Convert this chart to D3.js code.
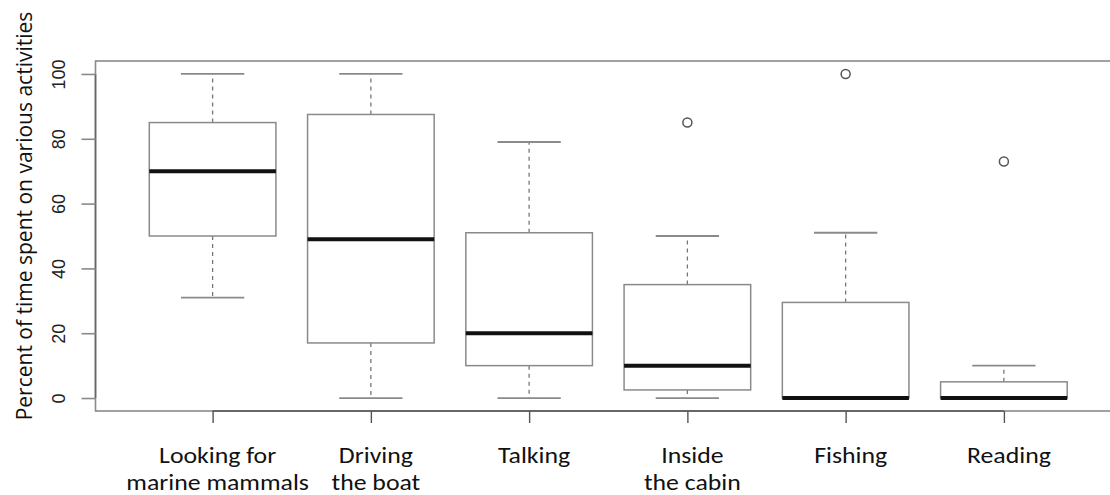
<!DOCTYPE html>
<html>
<head>
<meta charset="utf-8">
<script src="https://cdn.jsdelivr.net/npm/d3@7"></script>
<style>
  html, body { margin: 0; padding: 0; background: #fff; }
  svg { display: block; }
</style>
</head>
<body>
<svg id="chart" width="1110" height="495"></svg>
<script>
// ---- data ----
const categories = ["Looking for\nmarine mammals", "Driving\nthe boat", "Talking", "Inside\nthe cabin", "Fishing", "Reading"];
const whiskerLow  = [31, 0, 0, 0, 0, 0];
const q1          = [50, 17, 10, 2.5, 0, 0];
const medians     = [70, 49, 20, 10, 0, 0];
const q3          = [85, 87.5, 51, 35, 29.5, 5];
const whiskerHigh = [100, 100, 79, 50, 51, 10];
const outliers    = [[], [], [], [85], [100], [73]];
const yTicks = [0, 20, 40, 60, 80, 100];
const yTitle = "Percent of time spent on various activities";

// ---- layout ----
const svg = d3.select("#chart");
const frame = {left: 95.5, top: 61, bottom: 411, right: 1121};
const x = d3.scaleLinear().domain([0.26, 6.74]).range([frame.left, frame.right]);
const y = d3.scaleLinear().domain([-4, 104]).range([frame.bottom, frame.top]);

const boxW = x(0.8) - x(0);
const capW = x(0.4) - x(0);
const grey = "#8a8a8a";

// frame
svg.append("rect")
  .attr("x", frame.left).attr("y", frame.top)
  .attr("width", frame.right - frame.left).attr("height", frame.bottom - frame.top)
  .attr("fill", "none").attr("stroke", grey).attr("stroke-width", 1.6);

const data = categories.map((c, i) => ({
  c, i: i + 1, lo: whiskerLow[i], q1: q1[i], med: medians[i], q3: q3[i], hi: whiskerHigh[i], out: outliers[i]
}));

const g = svg.append("g").selectAll("g").data(data).join("g");

// whiskers (dashed)
g.append("line")
  .attr("x1", d => x(d.i)).attr("x2", d => x(d.i))
  .attr("y1", d => y(d.q3)).attr("y2", d => y(d.hi))
  .attr("stroke", "#777").attr("stroke-width", 1.3).attr("stroke-dasharray", "4,4");
g.append("line")
  .attr("x1", d => x(d.i)).attr("x2", d => x(d.i))
  .attr("y1", d => y(d.q1)).attr("y2", d => y(d.lo))
  .attr("stroke", "#777").attr("stroke-width", 1.3).attr("stroke-dasharray", "4,4");
// caps
g.append("line")
  .attr("x1", d => x(d.i) - capW / 2).attr("x2", d => x(d.i) + capW / 2)
  .attr("y1", d => y(d.hi)).attr("y2", d => y(d.hi))
  .attr("stroke", grey).attr("stroke-width", 1.8);
g.append("line")
  .attr("x1", d => x(d.i) - capW / 2).attr("x2", d => x(d.i) + capW / 2)
  .attr("y1", d => y(d.lo)).attr("y2", d => y(d.lo))
  .attr("stroke", grey).attr("stroke-width", 1.8);
// box
g.append("rect")
  .attr("x", d => x(d.i) - boxW / 2).attr("width", boxW)
  .attr("y", d => y(d.q3)).attr("height", d => y(d.q1) - y(d.q3))
  .attr("fill", "#fff").attr("stroke", grey).attr("stroke-width", 1.5);
// median
g.append("line")
  .attr("x1", d => x(d.i) - boxW / 2).attr("x2", d => x(d.i) + boxW / 2)
  .attr("y1", d => y(d.med)).attr("y2", d => y(d.med))
  .attr("stroke", "#111").attr("stroke-width", 4);
// outliers
g.selectAll("circle").data(d => d.out.map(v => ({i: d.i, v}))).join("circle")
  .attr("cx", d => x(d.i)).attr("cy", d => y(d.v)).attr("r", 4.5)
  .attr("fill", "none").attr("stroke", "#555").attr("stroke-width", 1.5);

// y axis
const yAxis = d3.axisLeft(y).tickValues(yTicks).tickSize(14).tickFormat(d3.format("d"));
const ya = svg.append("g").attr("transform", `translate(${frame.left},0)`).call(yAxis);
ya.select(".domain").attr("d", `M0,${y(0)}V${y(100)}`).attr("stroke", "#666").attr("stroke-width", 1.6);
ya.selectAll(".tick line").attr("stroke", grey).attr("stroke-width", 1.6);
ya.selectAll(".tick text")
  .attr("x", null).attr("dy", null)
  .attr("transform", "translate(-37,0) rotate(-90)")
  .attr("text-anchor", "middle").attr("dominant-baseline", "central")
  .style("font-family", "'Liberation Sans', Arial, sans-serif").style("font-size", "18px").attr("fill", "#222");

// x axis
const xAxis = d3.axisBottom(x).tickValues(d3.range(1, 7)).tickSize(12).tickFormat("");
const xa = svg.append("g").attr("transform", `translate(0,${frame.bottom})`).call(xAxis);
xa.select(".domain").attr("d", `M${x(1)},0H${x(6)}`).attr("stroke", "#555").attr("stroke-width", 1.6);
xa.selectAll(".tick line").attr("stroke", "#555").attr("stroke-width", 1.4);

// category labels (one text per line)
const labelLines = data.flatMap(d => d.c.split("\n").map((t, k) => ({i: d.i, t, k})));
svg.append("g").selectAll("text").data(labelLines).join("text")
  .attr("transform", d => `translate(${x(d.i) + 5},${463 + d.k * 26.5}) scale(1.2,1)`)
  .attr("text-anchor", "middle")
  .style("font-family", "Carlito, Lato, 'Open Sans', sans-serif").style("font-size", "21.5px").attr("fill", "#111")
  .text(d => d.t);

// y title
svg.append("text")
  .attr("transform", `translate(32,${216}) rotate(-90)`)
  .attr("text-anchor", "middle")
  .style("font-family", "'Open Sans', sans-serif").style("font-size", "21px").attr("fill", "#111")
  .text(yTitle);
</script>
</body>
</html>
